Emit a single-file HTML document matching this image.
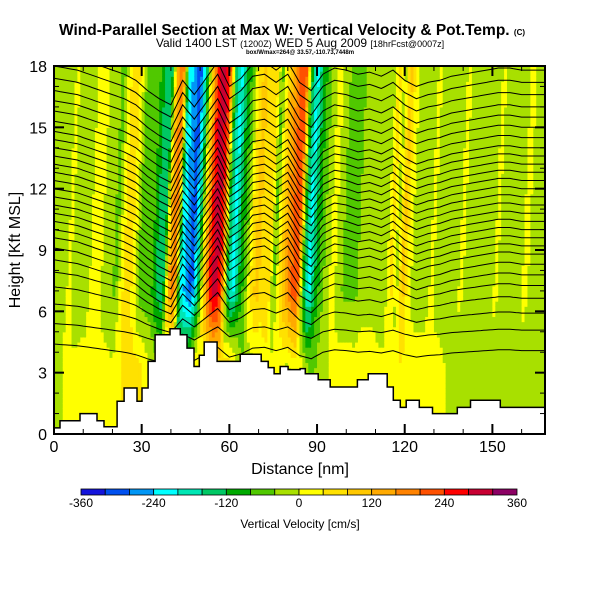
<!DOCTYPE html>
<html><head><meta charset="utf-8"><style>
body{margin:0;background:#fff;width:600px;height:600px;overflow:hidden}
svg text{font-family:"Liberation Sans",sans-serif}
</style></head><body>
<svg id="chart" width="600" height="600" viewBox="0 0 600 600" xmlns="http://www.w3.org/2000/svg">
<text x="292" y="35" text-anchor="middle" font-size="15.5" font-weight="bold">Wind-Parallel Section at Max W: Vertical Velocity &amp; Pot.Temp. <tspan font-size="8">(C)</tspan></text>
<text x="300" y="47" text-anchor="middle" font-size="12">Valid 1400 LST <tspan font-size="9">(1200Z)</tspan> WED 5 Aug 2009 <tspan font-size="9">[18hrFcst@0007z]</tspan></text>
<text x="300" y="54" text-anchor="middle" font-size="6" font-weight="bold">box/Wmax=264@ 33.57,-110.73,7448m</text>
<defs><clipPath id="pc"><rect x="54" y="66" width="491" height="368"/></clipPath></defs>
<g id="field" clip-path="url(#pc)"></g>
<g id="isen" clip-path="url(#pc)"></g>
<path id="terrain" fill="#fff" stroke="#000" stroke-width="1.5"/>
<rect x="54" y="66" width="491" height="368" fill="none" stroke="#000" stroke-width="2"/>
<g id="axes"></g>
<text x="300" y="474" text-anchor="middle" font-size="16">Distance [nm]</text>
<text transform="translate(20,250) rotate(-90)" text-anchor="middle" font-size="16">Height [Kft MSL]</text>
<g id="cbar"></g>
<text x="300" y="528" text-anchor="middle" font-size="12">Vertical Velocity [cm/s]</text>
</svg>
<script>
// ---- data ----
const upperX = [0,2,4,6,8,10,12,14,16,18,20,22,24,26,28,30,32,34,36,38,40,42,44,46,48,50,52,54,56,58,60,62,64,66,68,70,72,74,76,78,80,82,84,86,88,90,92,94,96,98,100,102,104,106,108,110,112,114,116,118,120,122,124,126,128,130,132,134,136,138,140,142,144,146,148,150,152,154,156,158,160,162,164,166,168];
const upperW = [-20,-20,-20,10,-20,-20,-20,20,20,-20,-30,-50,30,80,20,-60,-70,-70,-130,-160,120,200,-200,-260,-300,-150,80,250,320,230,-120,-220,-120,-60,40,100,60,80,-60,60,140,200,240,-100,-220,-120,-60,-20,20,-20,-50,-50,-50,-20,-20,-20,-30,-30,60,-20,100,20,-20,-20,-20,10,-20,-30,-30,-30,15,-20,-30,-30,-30,-20,10,-20,-20,-20,-20,20,-20,-20,-20];
const lowerX = [0,4,8,12,16,20,24,28,32,36,40,44,48,52,56,60,64,68,72,76,80,84,88,92,96,100,104,108,112,116,120,124,128,132,136,140,144,148,152,156,160,164,168];
const lowerW = [-20,10,10,20,20,10,50,70,20,-20,-60,-40,40,-20,60,100,-40,-20,20,10,-30,40,-50,-20,20,30,20,30,10,20,40,20,20,20,-20,-30,-20,-20,-10,-20,-30,-20,-20];
const terrainX = [0,2.05,8.9,14.7,17.1,21.6,24.0,28.4,30.1,32.2,34.6,39.7,43.2,45.5,47.9,49.7,51.4,55.8,63.7,70.9,73.3,75.3,77.4,80.1,84.2,86.0,90.4,94.5,103.8,107.5,114.0,116.1,118.5,120.5,125.0,129.5,138.0,142.5,152.7];
const terrainH = [0.3,0.65,1.0,0.65,0.35,1.6,2.25,1.6,2.25,3.55,4.85,5.15,4.85,4.2,3.3,3.85,4.5,3.55,3.9,3.55,3.25,2.95,3.3,3.15,3.2,2.95,2.65,2.3,2.65,2.95,2.3,1.65,1.3,1.65,1.3,1.0,1.3,1.65,1.3];
const isenBase = [4.0,5.0,5.8,6.5,7.1,7.6,8.1,8.6,9.0,9.4,9.8,10.2,10.6,11.0,11.4,11.8,12.2,12.6,13.0,13.4,13.8,14.3,14.8,15.3,15.8,16.4,17.0,17.6];
const dispX = lowerX;
const dispH = [1.0,0.9,0.8,0.6,0.4,0.2,0.0,-0.3,-0.8,-1.2,-1.5,-0.3,-1.0,-0.2,0.6,-0.6,-0.2,0.5,0.6,0.2,0.6,-0.4,-0.8,0.0,0.3,0.2,0.0,0.1,-0.1,0.2,-0.3,-0.6,-0.4,-0.3,-0.1,0.0,0.1,0.2,0.3,0.3,0.2,0.2,0.2];
const cbarTicks = [-360,-240,-120,0,120,240,360];
const binColors = ["#1414dc","#0050f0","#0096f5","#00ffff","#00e6b4","#00c864","#00aa00","#50c800","#a8e000","#ffff00","#ffe100","#ffc800","#ffaa00","#ff8200","#ff5000","#ff0000","#c80032","#8c0064"];
const xTicks = [0,30,60,90,120,150];
const yTicks = [0,3,6,9,12,15,18];
// ---- scales ----
const X0=54, X1=545, Y0=434, Y1=66, XMAX=168, YMAX=18;
const sx = v => X0 + v*(X1-X0)/XMAX;
const sy = v => Y0 - v*(Y0-Y1)/YMAX;
const NS="http://www.w3.org/2000/svg";
function mk(tag, attrs, parent){const e=document.createElementNS(NS,tag);for(const k in attrs)e.setAttribute(k,attrs[k]);parent.appendChild(e);return e;}
function interp(xs, ys, x){if(x<=xs[0])return ys[0];for(let i=1;i<xs.length;i++){if(x<=xs[i]){const t=(x-xs[i-1])/(xs[i]-xs[i-1]);return ys[i-1]+t*(ys[i]-ys[i-1]);}}return ys[ys.length-1];}
function colorFor(w){let b=Math.floor((w+360)/40);b=Math.max(0,Math.min(17,b));return binColors[b];}
// ---- field ----
const field=document.getElementById('field');
const dx=1, dh=0.25;
for(let x=0;x<XMAX;x+=dx){
  for(let h=0;h<YMAX;h+=dh){
    const hc=h+dh/2, xc=x+dx/2;
    const wt=Math.max(0,Math.min(1,(hc-3)/4));
    const up=interp(upperX,upperW,xc-0.3*(hc-10));
    const lo=interp(lowerX,lowerW,xc);
    const v=lo*(1-wt)+up*wt;
    const r=mk('rect',{x:sx(x).toFixed(2),y:sy(h+dh).toFixed(2),width:(sx(dx)-X0+0.6).toFixed(2),height:(sy(0)-sy(dh)+0.6).toFixed(2),fill:colorFor(v)},field);
    
    
  }
}
// ---- isentropes ----
const isen=document.getElementById('isen');
isenBase.forEach((b)=>{
  let d='';
  const amp=Math.min(1,Math.max(0.4,(b-3)/5));
  for(let x=0;x<=XMAX;x+=1){
    const h=b+amp*interp(dispX,dispH,x);
    d+=(x===0?'M':'L')+sx(x).toFixed(1)+','+sy(h).toFixed(1);
  }
  const p=mk('path',{d:d,fill:'none',stroke:'#000','stroke-width':1},isen);
  
  
});
// ---- terrain ----
let td='M'+sx(0)+','+sy(0);
for(let i=0;i<terrainX.length;i++){
  const xe=i+1<terrainX.length?terrainX[i+1]:XMAX;
  td+=' L'+sx(terrainX[i]).toFixed(1)+','+sy(terrainH[i]).toFixed(1)+' L'+sx(xe).toFixed(1)+','+sy(terrainH[i]).toFixed(1);
}
td+=' L'+sx(XMAX)+','+sy(0)+' Z';
document.getElementById('terrain').setAttribute('d',td);
// ---- axes ----
const axes=document.getElementById('axes');
for(let v=0;v<=XMAX;v+=10){
  const major=v%30===0, L=major?10:5;
  mk('line',{x1:sx(v),x2:sx(v),y1:Y0,y2:Y0-L,stroke:'#000','stroke-width':major?2:1},axes);
  mk('line',{x1:sx(v),x2:sx(v),y1:Y1,y2:Y1+L,stroke:'#000','stroke-width':major?2:1},axes);
}
for(let v=0;v<=YMAX;v+=1){
  const major=v%3===0, L=major?10:5;
  mk('line',{x1:X0,x2:X0+L,y1:sy(v),y2:sy(v),stroke:'#000','stroke-width':major?2:1},axes);
  mk('line',{x1:X1,x2:X1-L,y1:sy(v),y2:sy(v),stroke:'#000','stroke-width':major?2:1},axes);
}
xTicks.forEach(v=>{const t=mk('text',{x:sx(v),y:452,'text-anchor':'middle','font-size':16},axes);t.textContent=v;});
yTicks.forEach(v=>{const t=mk('text',{x:47,y:sy(v)+6,'text-anchor':'end','font-size':16},axes);t.textContent=v;});
// ---- colorbar ----
const cb=document.getElementById('cbar');
const cx0=81, cx1=517;
const cs=v=>cx0+(v+360)*(cx1-cx0)/720;
binColors.forEach((c,i)=>{const r=mk('rect',{x:cs(-360+i*40),y:489,width:cs(-320)-cs(-360),height:6,fill:c,stroke:'#000','stroke-width':0.8},cb);});
cbarTicks.forEach(v=>{const t=mk('text',{x:cs(v),y:507,'text-anchor':'middle','font-size':12},cb);t.textContent=v;});
</script>
</body></html>
